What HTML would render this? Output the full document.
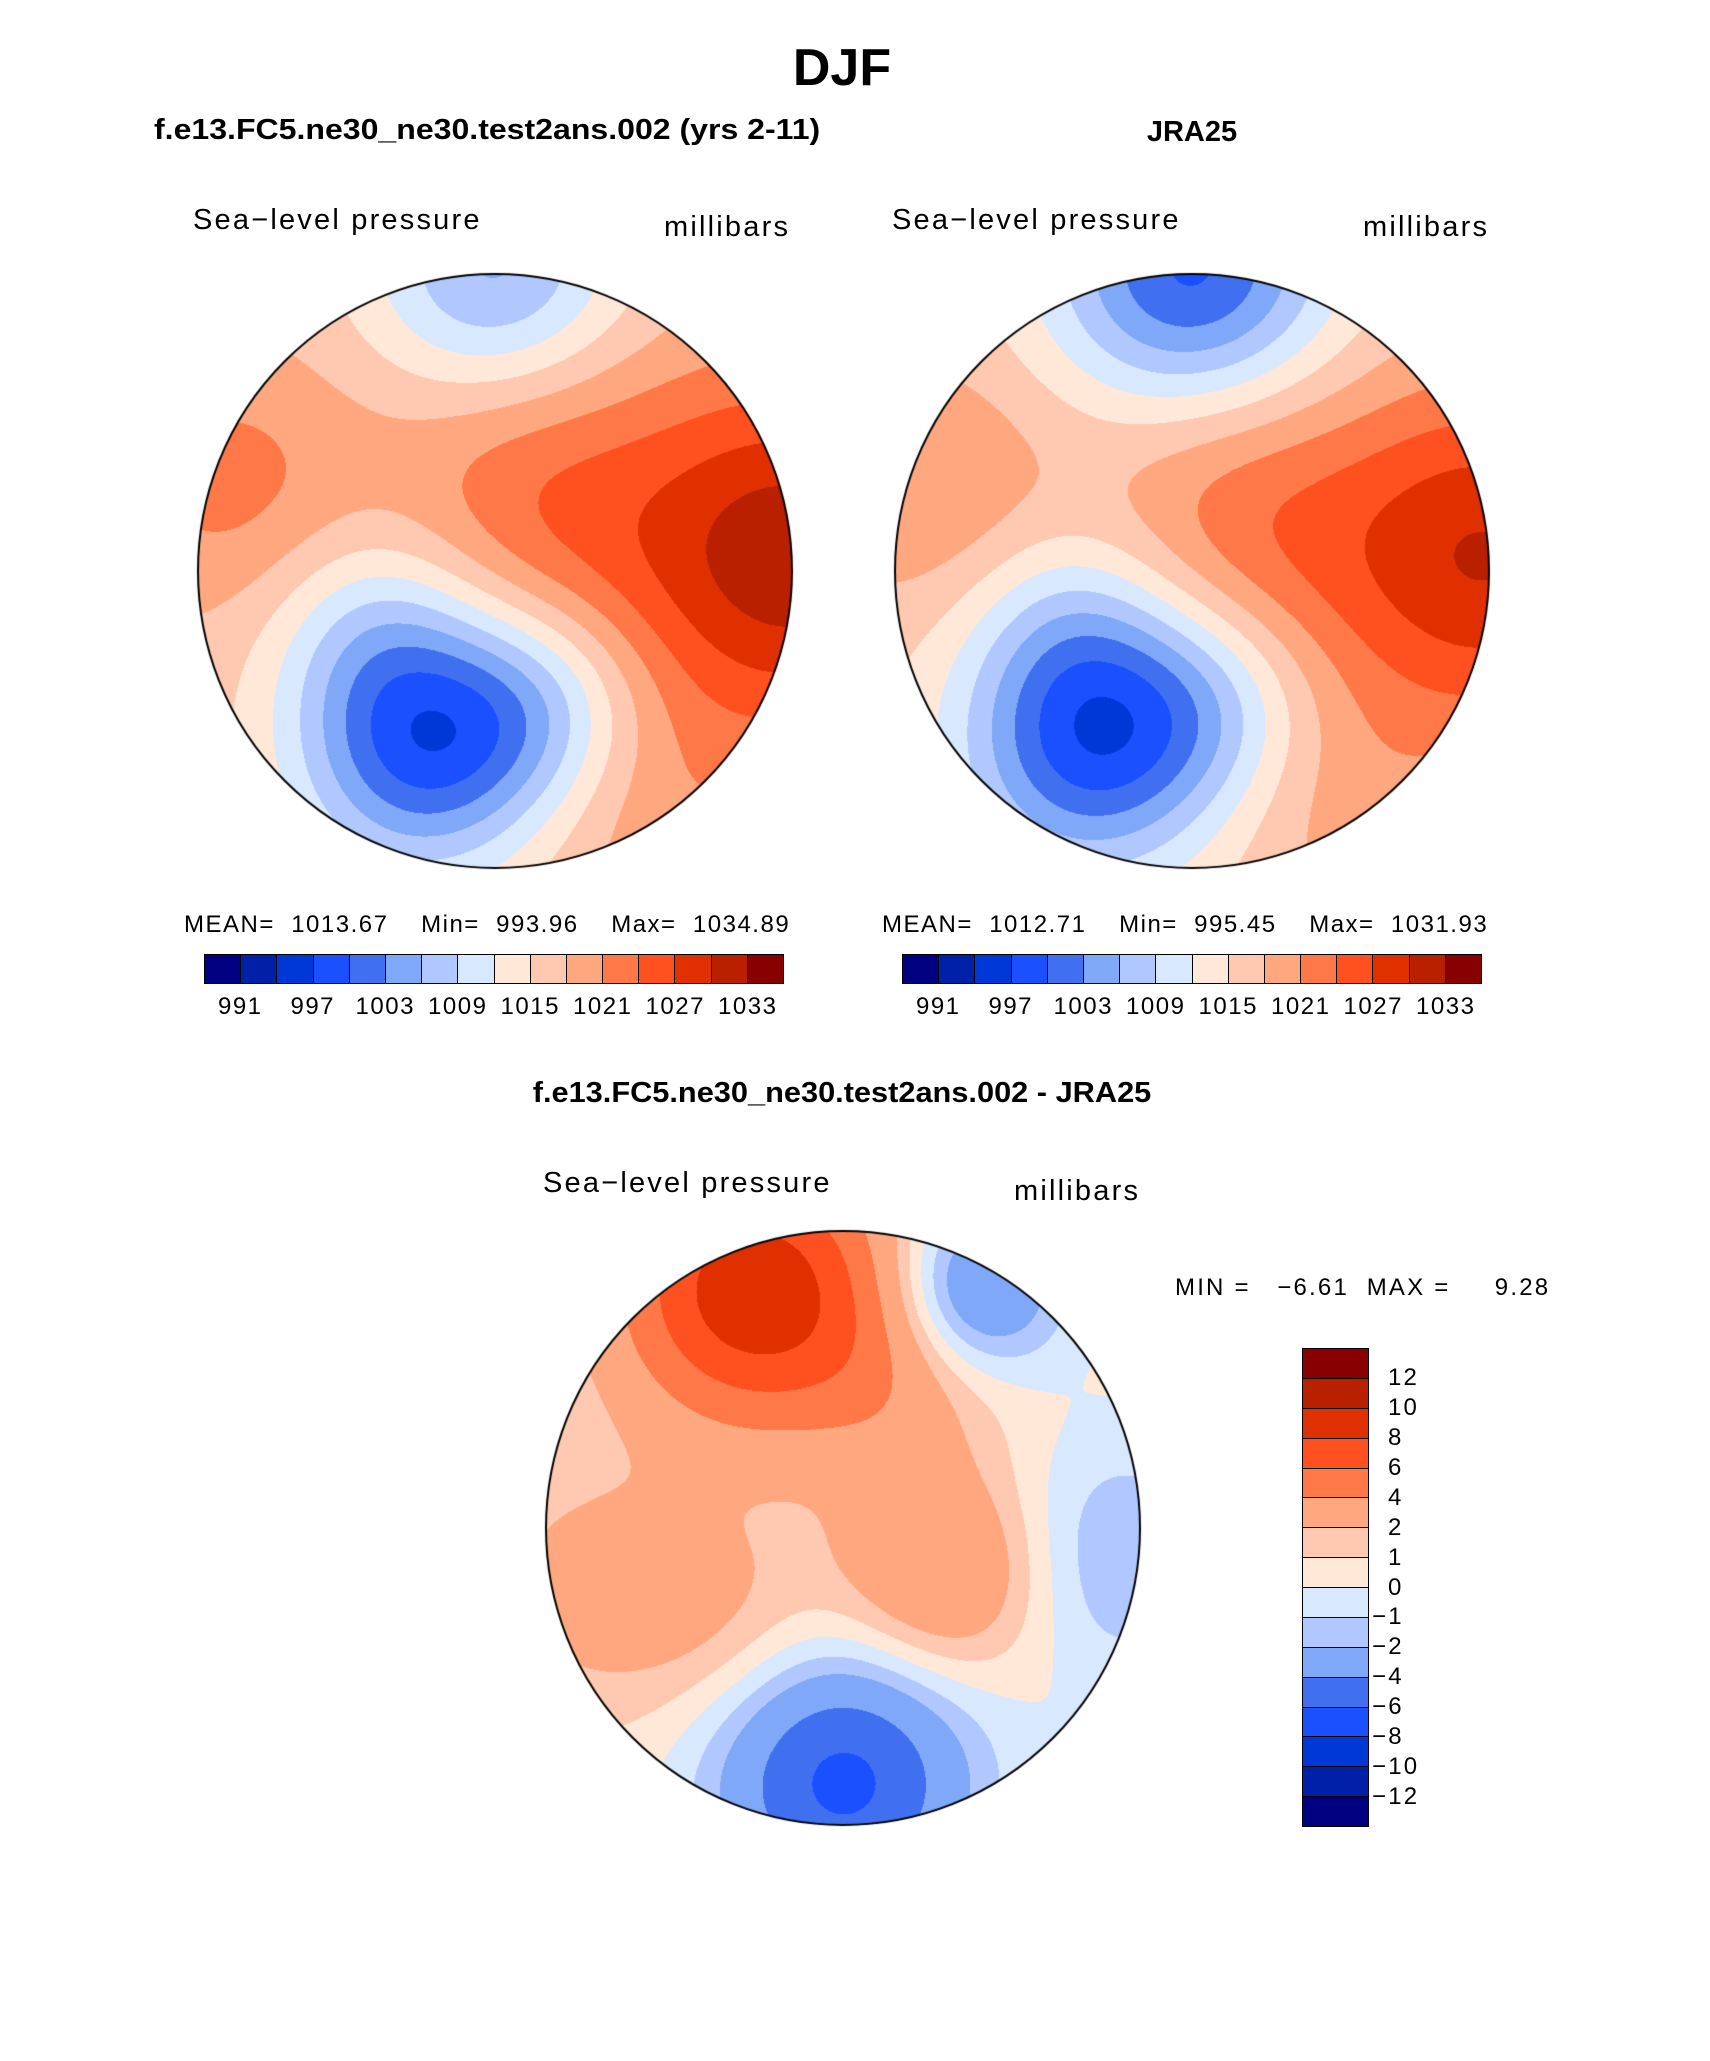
<!DOCTYPE html>
<html><head><meta charset="utf-8">
<style>
body{margin:0;width:1710px;height:2061px;background:#fff;position:relative;overflow:hidden;font-family:"Liberation Sans",sans-serif;}
.t{position:absolute;white-space:nowrap;color:#000;}
.b{font-weight:bold;}
.p{letter-spacing:2.2px;}
.s{letter-spacing:1.5px;}
canvas{position:absolute;}
.cb{position:absolute;display:flex;border:1.5px solid #000;box-sizing:border-box;}
.cb div{flex:1;border-right:1px solid #000;}
.cb div:last-child{border-right:none;}
.vcb{position:absolute;display:flex;flex-direction:column;border:1.5px solid #000;box-sizing:border-box;}
.vcb div{flex:1;border-bottom:1px solid #000;}
.vcb div:last-child{border-bottom:none;}
</style></head><body>
<div class="t b" style="left:0;width:1684px;text-align:center;top:38px;font-size:52px;">DJF</div>
<div class="t b" style="left:154px;top:114px;font-size:29px;transform:scaleX(1.105);transform-origin:left;">f.e13.FC5.ne30_ne30.test2ans.002 (yrs 2-11)</div>
<div class="t b" style="left:1092px;width:200px;text-align:center;top:116px;font-size:29px;">JRA25</div>

<div class="t p" style="left:193px;top:204px;font-size:29px;">Sea−level pressure</div>
<div class="t p" style="left:664px;top:211px;font-size:29px;">millibars</div>
<div class="t p" style="left:892px;top:204px;font-size:29px;">Sea−level pressure</div>
<div class="t p" style="left:1363px;top:211px;font-size:29px;">millibars</div>

<canvas id="m1" width="600" height="600" style="left:195px;top:271px"></canvas>
<canvas id="m2" width="600" height="600" style="left:892px;top:271px"></canvas>

<div class="t s" style="left:184px;top:911px;font-size:24px;">MEAN=&nbsp; 1013.67&nbsp;&nbsp;&nbsp; Min=&nbsp; 993.96&nbsp;&nbsp;&nbsp; Max=&nbsp; 1034.89</div>
<div class="t s" style="left:882px;top:911px;font-size:24px;">MEAN=&nbsp; 1012.71&nbsp;&nbsp;&nbsp; Min=&nbsp; 995.45&nbsp;&nbsp;&nbsp; Max=&nbsp; 1031.93</div>

<div id="cb1" class="cb" style="left:204px;top:954px;width:580px;height:30px;"></div>
<div id="cb2" class="cb" style="left:902px;top:954px;width:580px;height:30px;"></div>

<div class="t b" style="left:0;width:1684px;text-align:center;top:1077px;font-size:29px;transform:scaleX(1.06);">f.e13.FC5.ne30_ne30.test2ans.002 - JRA25</div>
<div class="t p" style="left:543px;top:1167px;font-size:29px;">Sea−level pressure</div>
<div class="t p" style="left:1014px;top:1175px;font-size:29px;">millibars</div>
<canvas id="m3" width="600" height="600" style="left:543px;top:1228px"></canvas>
<div class="t p" style="left:1175px;top:1274px;font-size:24px;">MIN =&nbsp;&nbsp; −6.61&nbsp; MAX =&nbsp;&nbsp;&nbsp;&nbsp; 9.28</div>
<div id="cb3" class="vcb" style="left:1302px;top:1348px;width:67px;height:479px;"></div>

<script>
const absColors=["#000080","#0020a8","#0038d8","#1a50ff","#4070f0","#80a8f8","#b0c8ff","#d8e8ff","#ffe8d8","#ffc8b0","#ffa880","#ff7848","#ff5020","#e03000","#b82000","#880000"];
const absBounds=[991,994,997,1000,1003,1006,1009,1012,1015,1018,1021,1024,1027,1030,1033];
const absLabels=["991","997","1003","1009","1015","1021","1027","1033"];
const diffBounds=[-12,-10,-8,-6,-4,-2,-1,0,1,2,4,6,8,10,12];
const diffLabels=["12","10","8","6","4","2","1","0","−1","−2","−4","−6","−8","−10","−12"];

const m1Base=1017;
const m1X=[1.0,0.1,-0.25,0.15,0.0,-0.9,-0.4,0.5,0.2];
const m1Y=[-0.05,-0.35,0.6,0.45,-1.0,-0.3,0.2,0.8,0.0];
const m1A=[15,5,-17,-8,-12,5,-6,3,2];
const m1S=[0.42,0.35,0.3,0.25,0.3,0.3,0.25,0.3,0.3];
const m2Base=1016;
const m2X=[1.0,0.1,-0.35,0.05,0.0,-0.9,-0.4,0.5,0.25];
const m2Y=[-0.05,-0.3,0.6,0.45,-1.0,-0.3,0.2,0.8,0.0];
const m2A=[14,5,-16,-7,-17,5,-6,3,2];
const m2S=[0.42,0.35,0.3,0.25,0.33,0.3,0.25,0.3,0.3];
const dBase=0.5;
const dX=[-0.3,0.45,0.35,0.0,0.9,-0.85,0.2,-0.4];
const dY=[-0.8,-0.8,0.15,0.85,0.1,0.2,-0.5,0.3];
const dA=[9,-5,4,-7,-2.5,2,2,1.5];
const dS=[0.32,0.2,0.25,0.3,0.3,0.3,0.25,0.25];

function colorIndex(v,bounds){let i=0;while(i<bounds.length&&v>=bounds[i])i++;return i;}
function hex(c){return [parseInt(c.substr(1,2),16),parseInt(c.substr(3,2),16),parseInt(c.substr(5,2),16)];}
function drawMap(id,base,X,Y,A,S,bounds,colors){
  const cv=document.getElementById(id),ctx=cv.getContext('2d');
  const R=297,c=300,img=ctx.createImageData(600,600),rgb=colors.map(hex);
  for(let py=0;py<600;py++)for(let px=0;px<600;px++){
    const dx=px-c,dy=py-c;if(dx*dx+dy*dy>R*R)continue;
    const u=dx/R,v=dy/R;let val=base;
    for(let k=0;k<X.length;k++){const ex=u-X[k],ey=v-Y[k];val+=A[k]*Math.exp(-(ex*ex+ey*ey)/(2*S[k]*S[k]));}
    const col=rgb[colorIndex(val,bounds)],o=(py*600+px)*4;
    img.data[o]=col[0];img.data[o+1]=col[1];img.data[o+2]=col[2];img.data[o+3]=255;
  }
  ctx.putImageData(img,0,0);
  ctx.beginPath();ctx.arc(c,c,R,0,Math.PI*2);ctx.lineWidth=2;ctx.strokeStyle='#000';ctx.stroke();
}
drawMap('m1',m1Base,m1X,m1Y,m1A,m1S,absBounds,absColors);
drawMap('m2',m2Base,m2X,m2Y,m2A,m2S,absBounds,absColors);
drawMap('m3',dBase,dX,dY,dA,dS,diffBounds,absColors);

function hbar(id,left){
  const bar=document.getElementById(id);
  absColors.forEach((c,i)=>{const d=document.createElement('div');d.style.background=c;
    
    
    bar.appendChild(d);});
  const w=580/absColors.length;
  absLabels.forEach((l,j)=>{const t=document.createElement('div');t.className='t s';
    
    
    const i=1+2*j;t.style.left=(left+i*w-40)+'px';t.style.width='80px';t.style.textAlign='center';
    t.style.top='993px';t.style.fontSize='24px';t.textContent=l;document.body.appendChild(t);});
}
hbar('cb1',204);hbar('cb2',902);

const vb=document.getElementById('cb3');
absColors.slice().reverse().forEach(c=>{const d=document.createElement('div');d.style.background=c;
  
  
  vb.appendChild(d);});
const h=479/16;
diffLabels.forEach((l,j)=>{const t=document.createElement('div');t.className='t p';
  
  
  t.style.left=(l.startsWith('−')?1372:1388)+'px';t.style.top=(1348+(j+1)*h-14)+'px';t.style.fontSize='24px';t.textContent=l;document.body.appendChild(t);});
</script>
</body></html>
